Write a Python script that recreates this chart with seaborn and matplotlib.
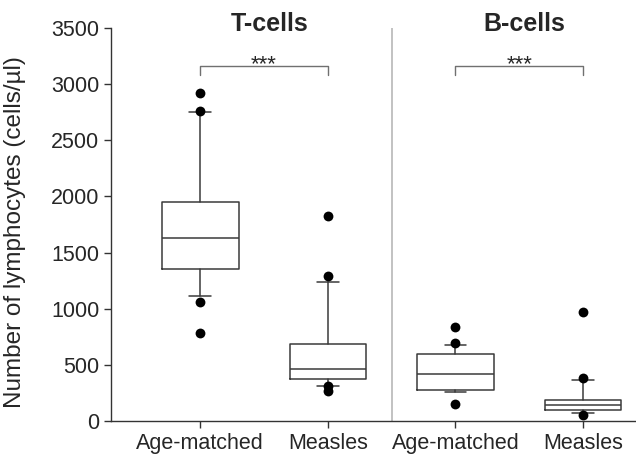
import matplotlib
matplotlib.use('Agg')
import matplotlib.pyplot as plt
import seaborn as sns
import pandas as pd

# ─── Data ───────────────────────────────────────────────────────────────────
groups    = ["Age-matched", "Measles", "Age-matched", "Measles"]
panels    = ["T-cells", "B-cells"]
q1        = [1357, 371, 279, 101]
median    = [1630, 466, 419, 140]
q3        = [1953, 686, 594, 190]
whis_low  = [1113, 312, 258, 69]
whis_high = [2749, 1235, 677, 365]
outliers  = [[2918, 2758, 1062, 786],
             [1823, 1294, 312, 270],
             [840, 692, 149],
             [971, 386, 53]]
sig_level = 3160
sig_text  = "***"
yticks    = [0, 500, 1000, 1500, 2000, 2500, 3000, 3500]

sns.set_style("ticks")
plt.rcParams['font.family'] = ['Liberation Sans', 'DejaVu Sans']

fig = plt.figure(figsize=(6.36, 4.54), dpi=100)
ax = fig.add_axes([0.1745, 0.0727, 0.8255, 0.8656])

stats = [dict(med=m, q1=a, q3=b, whislo=lo, whishi=hi, fliers=[])
         for m, a, b, lo, hi in zip(median, q1, q3, whis_low, whis_high)]
edge = '#3a3a3a'
ax.bxp(stats, positions=range(len(groups)), widths=0.6, capwidths=0.17,
       showfliers=False,
       boxprops=dict(color=edge, lw=1.1),
       whiskerprops=dict(color=edge, lw=1.1),
       capprops=dict(color=edge, lw=1.1),
       medianprops=dict(color=edge, lw=1.1))

pts = pd.DataFrame([(i, v) for i, vals in enumerate(outliers) for v in vals],
                   columns=['pos', 'value'])
sns.scatterplot(data=pts, x='pos', y='value', color='black', s=50,
                edgecolor='black', linewidth=0, ax=ax, zorder=5)

# divider between the two panels
ax.plot([1.5, 1.5], [0, 3500], color='#bdbdbd', lw=1.3, zorder=0)

# significance brackets
for a, b in [(0, 1), (2, 3)]:
    ax.plot([a, a, b, b], [sig_level - 80, sig_level, sig_level, sig_level - 80],
            color='#707070', lw=1)
    ax.text((a + b) / 2, 3120, sig_text, ha='center', va='baseline',
            fontsize=16)

# panel titles
for k, name in enumerate(panels):
    ax.text(2 * k + 0.54, 3470, name, ha='center', va='baseline',
            fontsize=18, fontweight='bold')

ax.set_xlim(-0.70, 3.415)
ax.set_ylim(0, 3500)
ax.set_yticks(yticks)
ax.set_xticks(range(len(groups)))
ax.set_xticklabels(groups)
ax.tick_params(axis='both', labelsize=15.5, length=5, width=1, color='#333333')
ax.set_xlabel("")
ax.set_ylabel("Number of lymphocytes (cells/µl)", fontsize=17.5)
ax.yaxis.set_label_coords(-0.162, 0.48)
sns.despine(ax=ax)
for s in ['left', 'bottom']:
    ax.spines[s].set_color('#333333')
    ax.spines[s].set_linewidth(1)

fig.savefig('out.png', dpi=100)
